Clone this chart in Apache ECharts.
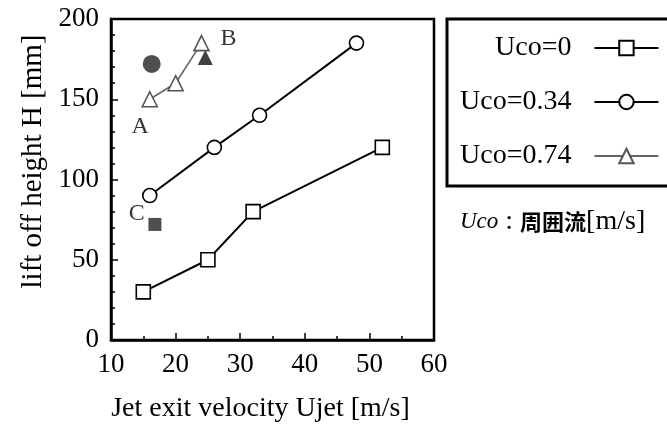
<!DOCTYPE html>
<html>
<head>
<meta charset="utf-8">
<script src="https://cdn.jsdelivr.net/npm/echarts@6/dist/echarts.min.js"></script>
<style>
  html, body { margin: 0; padding: 0; background: #fff; }
  #chart { width: 667px; height: 430px; }
</style>
</head>
<body>
<div id="chart"></div>
<script>
// data
const uco0 = [[15, 30], [25, 50], [32, 80], [52, 120]];
const uco034 = [[16, 90], [26, 120], [33, 140], [48, 185]];
const uco074 = [[16, 150], [20, 160], [24, 185]];
const filledCircle = [[16.3, 172]];
const filledTriangle = [[24.6, 176]];
const filledSquare = [[16.8, 72]];
const notes = [[14.5, 133, "A"], [28.2, 188, "B"], [14, 79, "C"]];
const seriesNames = ["Uco=0", "Uco=0.34", "Uco=0.74"];

const serif = "'Liberation Serif', 'DejaVu Serif', serif";

const chart = echarts.init(document.getElementById("chart"));

const openMark = (color) => ({ color: "#fff", borderColor: color, borderWidth: 1.6 });

chart.setOption({
  animation: false,
  backgroundColor: "#fff",
  textStyle: { fontFamily: serif, color: "#000" },
  grid: {
    left: 111, right: 233, top: 19, bottom: 90,
    show: true, borderColor: "#000", borderWidth: 2.5
  },
  xAxis: {
    type: "value", min: 10, max: 60, interval: 10,
    name: "Jet exit velocity Ujet [m/s]",
    nameLocation: "middle", nameGap: 55,
    nameTextStyle: { fontSize: 28, fontFamily: serif, color: "#000", padding: [0, 24, 0, 0] },
    axisLine: { lineStyle: { color: "#000", width: 2.5 } },
    axisTick: { inside: true, length: 7, lineStyle: { color: "#000", width: 1.5 } },
    minorTick: { show: true, splitNumber: 2, length: 4, lineStyle: { color: "#000", width: 1.5 } },
    axisLabel: { fontSize: 27, margin: 11, color: "#000", fontFamily: serif },
    splitLine: { show: false }
  },
  yAxis: {
    type: "value", min: 0, max: 200, interval: 50,
    name: "lift off height H [mm]",
    nameLocation: "middle", nameGap: 63,
    nameTextStyle: { fontSize: 29, fontFamily: serif, color: "#000", padding: [0, 0, 0, 36] },
    axisLine: { show: true, lineStyle: { color: "#000", width: 2.5 } },
    axisTick: { inside: true, length: 7, lineStyle: { color: "#000", width: 1.5 } },
    minorTick: { show: true, splitNumber: 5, length: 4, lineStyle: { color: "#000", width: 1.5 } },
    axisLabel: { fontSize: 27, margin: 12, color: "#000", fontFamily: serif },
    splitLine: { show: false }
  },
  legend: {
    data: seriesNames,
    orient: "vertical",
    align: "right",
    left: 447, top: 19,
    padding: [15, 30, 16, 13],
    itemWidth: 64, itemHeight: 18, itemGap: 26,
    borderColor: "#000", borderWidth: 3,
    textStyle: { fontSize: 28, lineHeight: 28, padding: [0, 18, 0, 0], fontFamily: serif, color: "#000" }
  },
  graphic: [{
    type: "text",
    left: 460, top: 208,
    style: {
      text: "{i|Uco}{n| : }{j|周囲流}{n|[m/s]}",
      rich: {
        i: { fontFamily: serif, fontStyle: "italic", fontSize: 23, fill: "#000" },
        n: { fontFamily: serif, fontSize: 28, fill: "#000" },
        j: { fontFamily: "'Noto Sans CJK JP'", fontSize: 22, fontWeight: "bold", fill: "#000" }
      }
    }
  }],
  series: [
    {
      name: seriesNames[0], type: "line", data: uco0,
      symbol: "rect", symbolSize: 14,
      lineStyle: { color: "#000", width: 2 },
      itemStyle: openMark("#000")
    },
    {
      name: seriesNames[1], type: "line", data: uco034,
      symbol: "circle", symbolSize: 14,
      lineStyle: { color: "#000", width: 2 },
      itemStyle: openMark("#000")
    },
    {
      name: seriesNames[2], type: "line", data: uco074,
      symbol: "triangle", symbolSize: 15,
      lineStyle: { color: "#666", width: 1.6 },
      itemStyle: openMark("#555")
    },
    {
      type: "scatter", data: filledCircle, symbol: "circle", symbolSize: 18,
      itemStyle: { color: "#222" }
    },
    {
      type: "scatter", data: filledTriangle, symbol: "triangle", symbolSize: 15,
      itemStyle: { color: "#111" }
    },
    {
      type: "scatter", data: filledSquare, symbol: "rect", symbolSize: 13,
      itemStyle: { color: "#222" }
    },
    {
      type: "scatter", data: notes, symbolSize: 0,
      label: {
        show: true, position: "inside",
        formatter: (p) => p.data[2],
        fontSize: 24, fontFamily: serif, color: "#000"
      }
    }
  ]
});
</script>
</body>
</html>
